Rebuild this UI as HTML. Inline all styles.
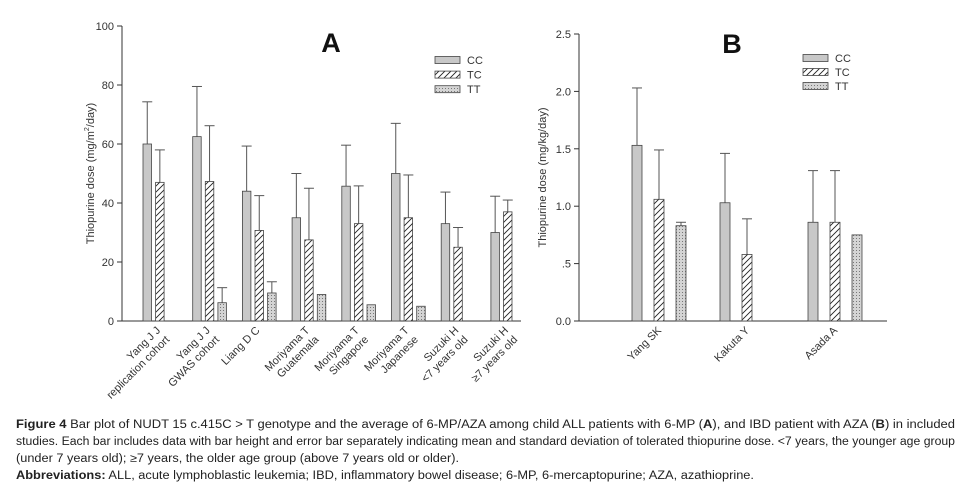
<!DOCTYPE html>
<html><head><meta charset="utf-8"><style>
html,body{margin:0;padding:0;background:#fff;}
svg{display:block;font-family:"Liberation Sans",Arial,sans-serif;}
</style></head><body>
<svg id="fig" width="970" height="501" viewBox="0 0 970 501" xmlns="http://www.w3.org/2000/svg">
<defs>
<pattern id="hatch" patternUnits="userSpaceOnUse" width="6" height="6">
<rect width="6" height="6" fill="#fff"/>
<path d="M-1,7 L7,-1 M-1,1 L1,-1 M5,7 L7,5" stroke="#222" stroke-width="0.9"/>
</pattern>
<pattern id="dots" patternUnits="userSpaceOnUse" width="3" height="3">
<rect width="3" height="3" fill="#d4d4d4"/>
<rect x="1" y="1" width="1" height="1" fill="#777"/>
</pattern>
</defs>
<g id="panelA"></g>
<g id="panelB"></g>
<g font-family="'Liberation Sans',Arial,sans-serif" font-size="11.5" fill="#222">
<text x="16" y="428" textLength="939" lengthAdjust="spacingAndGlyphs"><tspan font-weight="bold">Figure 4</tspan> Bar plot of NUDT 15 c.415C &gt; T genotype and the average of 6-MP/AZA among child ALL patients with 6-MP (<tspan font-weight="bold">A</tspan>), and IBD patient with AZA (<tspan font-weight="bold">B</tspan>) in included</text>
<text x="16" y="445" textLength="939" lengthAdjust="spacingAndGlyphs">studies. Each bar includes data with bar height and error bar separately indicating mean and standard deviation of tolerated thiopurine dose. &lt;7 years, the younger age group</text>
<text x="16" y="462" textLength="443" lengthAdjust="spacingAndGlyphs">(under 7 years old); ≥7 years, the older age group (above 7 years old or older).</text>
<text x="16" y="479" textLength="738" lengthAdjust="spacingAndGlyphs"><tspan font-weight="bold">Abbreviations:</tspan> ALL, acute lymphoblastic leukemia; IBD, inflammatory bowel disease; 6-MP, 6-mercaptopurine; AZA, azathioprine.</text>
</g>
</svg>
<script>
// Panel A data
const catsA = [["Yang J J","replication cohort"],["Yang J J","GWAS cohort"],["Liang D C"],["Moriyama T","Guatemala"],["Moriyama T","Singapore"],["Moriyama T","Japanese"],["Suzuki H","<7 years old"],["Suzuki H","≥7 years old"]];
const ccA = [60, 62.5, 44, 35, 45.7, 50, 33, 30];
const ccSdA = [74.3, 79.5, 59.3, 50, 59.6, 67, 43.7, 42.3];
const tcA = [47, 47.3, 30.7, 27.5, 33, 35, 25, 37];
const tcSdA = [58, 66.2, 42.5, 45, 45.8, 49.5, 31.7, 41];
const ttA = [null, 6.2, 9.5, 9, 5.5, 5, null, null];
const ttSdA = [null, 11.3, 13.3, null, null, null, null, null];
const ticksA = [0, 20, 40, 60, 80, 100];
// Panel B data
const catsB = [["Yang SK"],["Kakuta Y"],["Asada A"]];
const ccB = [1.53, 1.03, 0.86];
const ccSdB = [2.03, 1.46, 1.31];
const tcB = [1.06, 0.58, 0.86];
const tcSdB = [1.49, 0.89, 1.31];
const ttB = [0.83, null, 0.75];
const ttSdB = [0.86, null, null];
const ticksB = [0, 0.5, 1.0, 1.5, 2.0, 2.5];
const tickLabelsB = ["0.0", ".5", "1.0", "1.5", "2.0", "2.5"];

const NS = "http://www.w3.org/2000/svg";
function mk(parent, tag, attrs, text) {
  const e = document.createElementNS(NS, tag);
  for (const k in attrs) e.setAttribute(k, attrs[k]);
  if (text !== undefined) e.textContent = text;
  parent.appendChild(e);
  return e;
}

function drawPanel(g, o) {
  const y = v => o.y0 - (v - o.vmin) / (o.vmax - o.vmin) * (o.y0 - o.y1);
  const x = i => o.xStart + i * o.xStep;
  const ax = mk(g, "line", {x1: o.ax, y1: o.y0, x2: o.ax, y2: o.y1, stroke: "#333", "stroke-width": 1});
  
  
  const bx = mk(g, "line", {x1: o.ax, y1: o.y0, x2: o.axEnd, y2: o.y0, stroke: "#333", "stroke-width": 1});
  
  
  o.ticks.forEach((t, i) => {
    const tl = mk(g, "line", {x1: o.ax - 5, y1: y(t), x2: o.ax, y2: y(t), stroke: "#333"});
    
    
    const tx = mk(g, "text", {x: o.ax - 8, y: y(t) + 4, "text-anchor": "end", "font-size": 11, fill: "#333"}, o.tickLabels[i]);
    
    
  });
  const yt = mk(g, "text", {x: 0, y: 0, "text-anchor": "middle", "font-size": 11, fill: "#333", transform: `translate(${o.ytX},${(o.y0 + o.y1) / 2}) rotate(-90)`});
  yt.innerHTML = o.yTitle;
  
  
  const ti = mk(g, "text", {x: o.titleX, y: o.titleY, "text-anchor": "middle", "font-size": 27, "font-weight": "bold", fill: "#111"}, o.title);
  
  
  const series = [
    {vals: o.cc, sd: o.ccSd, fill: "#c8c8c8", off: 0, name: "cc"},
    {vals: o.tc, sd: o.tcSd, fill: "url(#hatch)", off: o.off, name: "tc"},
    {vals: o.tt, sd: o.ttSd, fill: "url(#dots)", off: 2 * o.off, name: "tt"}
  ];
  o.cats.forEach((c, i) => {
    series.forEach(s => {
      const v = s.vals[i];
      if (v == null) return;
      const bxp = x(i) + s.off;
      const sdv = s.sd[i];
      if (sdv != null) {
        const el = mk(g, "line", {x1: bxp + o.bw / 2, y1: y(v), x2: bxp + o.bw / 2, y2: y(sdv), stroke: "#555", "stroke-width": 1});
        
        
        const cap = mk(g, "line", {x1: bxp + o.bw / 2 - 5, y1: y(sdv), x2: bxp + o.bw / 2 + 5, y2: y(sdv), stroke: "#555", "stroke-width": 1});
        
        
      }
      const r = mk(g, "rect", {x: bxp, y: y(v), width: o.bw, height: y(o.vmin) - y(v), fill: s.fill, stroke: "#444", "stroke-width": 0.8});
      
      
    });
    const lx = x(i) + o.labelDx, ly = o.y0 + 10;
    const lt = mk(g, "text", {x: 0, y: 0, "text-anchor": "end", "font-size": 11, fill: "#333", transform: `translate(${lx},${ly}) rotate(-45)`});
    c.forEach((line, k) => {
      mk(lt, "tspan", {x: -k * 0, dy: k === 0 ? 0 : 13}, line);
    });
    
    
  });
  // legend
  const lg = mk(g, "g", {});
  
  
  ["CC", "TC", "TT"].forEach((n, k) => {
    const ry = o.legY + k * o.legStep;
    const lr = mk(lg, "rect", {x: o.legX, y: ry - 3.5, width: 25, height: 7, fill: series[k].fill, stroke: "#444", "stroke-width": 0.8});
    
    
    const lt2 = mk(lg, "text", {x: o.legX + 32, y: ry + 4, "font-size": 11, fill: "#333"}, n);
    
    
  });
}

drawPanel(document.getElementById("panelA"), {
  cats: catsA, cc: ccA, ccSd: ccSdA, tc: tcA, tcSd: tcSdA, tt: ttA, ttSd: ttSdA,
  ticks: ticksA, tickLabels: ticksA.map(String), vmin: 0, vmax: 100,
  y0: 321, y1: 26, ax: 122, axEnd: 521, xStart: 143, xStep: 49.7, bw: 8.5, off: 12.6,
  labelDx: 18, ytX: 94, yTitle: 'Thiopurine dose (mg/m<tspan font-size="7" dy="-5">2</tspan><tspan dy="5">/day)</tspan>',
  title: "A", titleX: 331, titleY: 52, legX: 435, legY: 60, legStep: 14.6
});
drawPanel(document.getElementById("panelB"), {
  cats: catsB, cc: ccB, ccSd: ccSdB, tc: tcB, tcSd: tcSdB, tt: ttB, ttSd: ttSdB,
  ticks: ticksB, tickLabels: tickLabelsB, vmin: 0, vmax: 2.5,
  y0: 321, y1: 34, ax: 579, axEnd: 887, xStart: 632, xStep: 88, bw: 10, off: 22,
  labelDx: 30, ytX: 546, yTitle: 'Thiopurine dose (mg/kg/day)',
  title: "B", titleX: 732, titleY: 53, legX: 803, legY: 58, legStep: 14
});
</script>
</body></html>
